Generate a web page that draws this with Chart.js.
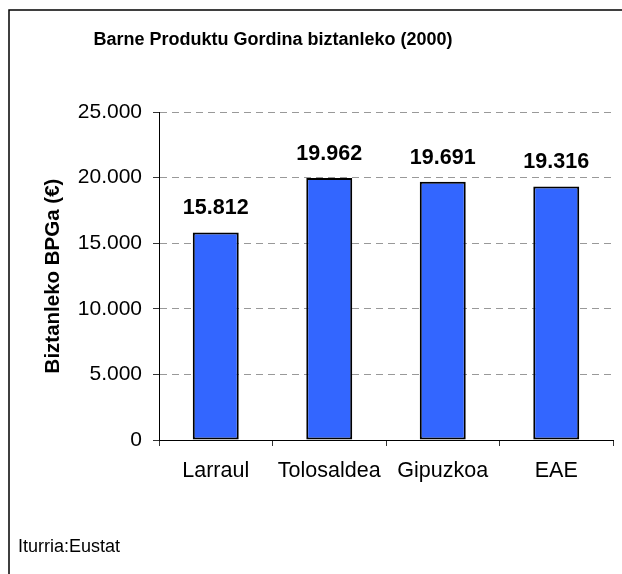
<!DOCTYPE html>
<html>
<head>
<meta charset="utf-8">
<script src="https://cdn.jsdelivr.net/npm/chart.js@4"></script>
<style>
  html, body { margin: 0; padding: 0; background: #fff; }
  #wrap { width: 622px; height: 574px; }
</style>
</head>
<body>
<div id="wrap"><canvas id="gdpChart" width="622" height="574"></canvas></div>
<script>
const categories = ["Larraul", "Tolosaldea", "Gipuzkoa", "EAE"];
const gdpPerCapita = [15812, 19962, 19691, 19316];
const yTicks = [0, 5000, 10000, 15000, 20000, 25000];

const titleText = "Barne Produktu Gordina biztanleko (2000)";
const yTitle = "Biztanleko BPGa (€)";
const sourceText = "Iturria:Eustat";

const FONT = "'Liberation Sans', Arial, sans-serif";

// 25000 -> "25.000"
function fmt(v) {
  return String(Math.round(v)).replace(/\B(?=(\d{3})+(?!\d))/g, ".");
}

// marko, izenburua eta iturria
const framePlugin = {
  id: "frame",
  afterDraw(chart) {
    const ctx = chart.ctx;
    ctx.save();
    ctx.strokeStyle = "#000";
    ctx.lineWidth = 1.5;
    ctx.beginPath();
    ctx.moveTo(9, 574);
    ctx.lineTo(9, 10);
    ctx.lineTo(622, 10);
    ctx.stroke();

    ctx.fillStyle = "#000";
    ctx.font = "bold 18px " + FONT;
    ctx.textAlign = "center";
    ctx.textBaseline = "middle";
    ctx.fillText(titleText, 273, 40);

    ctx.font = "18px " + FONT;
    ctx.textAlign = "left";
    ctx.fillText(sourceText, 18, 547);
    ctx.restore();
  }
};

// balioak barren gainean
const valueLabels = {
  id: "valueLabels",
  afterDatasetsDraw(chart) {
    const ctx = chart.ctx;
    const meta = chart.getDatasetMeta(0);
    ctx.save();
    ctx.fillStyle = "#000";
    ctx.font = "bold 21.5px " + FONT;
    ctx.textAlign = "center";
    ctx.textBaseline = "middle";
    meta.data.forEach((bar, i) => {
      ctx.fillText(fmt(gdpPerCapita[i]), bar.x, bar.y - 24);
    });
    ctx.restore();
  }
};

new Chart(document.getElementById("gdpChart").getContext("2d"), {
  type: "bar",
  data: {
    labels: categories,
    datasets: [{
      data: gdpPerCapita,
      backgroundColor: "#3366FF",
      borderColor: "#000",
      borderWidth: 2,
      borderSkipped: false,
      categoryPercentage: 1,
      barPercentage: 0.405
    }]
  },
  options: {
    responsive: false,
    animation: false,
    devicePixelRatio: 1,
    layout: { padding: { left: 0, right: 9, top: 112, bottom: 0 } },
    plugins: {
      legend: { display: false },
      title: { display: false },
      tooltip: { enabled: false }
    },
    scales: {
      x: {
        offset: true,
        grid: {
          offset: true,
          drawOnChartArea: false,
          tickLength: 6,
          tickColor: "#333"
        },
        border: { color: "#000", width: 1 },
        ticks: {
          color: "#000",
          padding: 12,
          font: { family: FONT, size: 21.5 }
        },
        afterFit(scale) { scale.height = 134; }
      },
      y: {
        min: 0,
        max: 25000,
        afterBuildTicks(scale) {
          scale.ticks = yTicks.map(v => ({ value: v }));
        },
        grid: {
          color: ctx => ctx.tick && ctx.tick.value === 0 ? "rgba(0,0,0,0)" : "#999",
          tickColor: "#333",
          tickLength: 6,
          borderDash: [7, 5]
        },
        border: { color: "#000", width: 1, dash: [7, 5] },
        ticks: {
          color: "#000",
          padding: 11,
          font: { family: FONT, size: 21 },
          callback: v => fmt(v)
        },
        title: {
          display: true,
          text: yTitle,
          color: "#000",
          padding: { top: 41, bottom: 0 },
          font: { family: FONT, size: 20.5, weight: "bold" }
        },
        afterFit(scale) { scale.width = 159; }
      }
    }
  },
  plugins: [framePlugin, valueLabels]
});
</script>
</body>
</html>
